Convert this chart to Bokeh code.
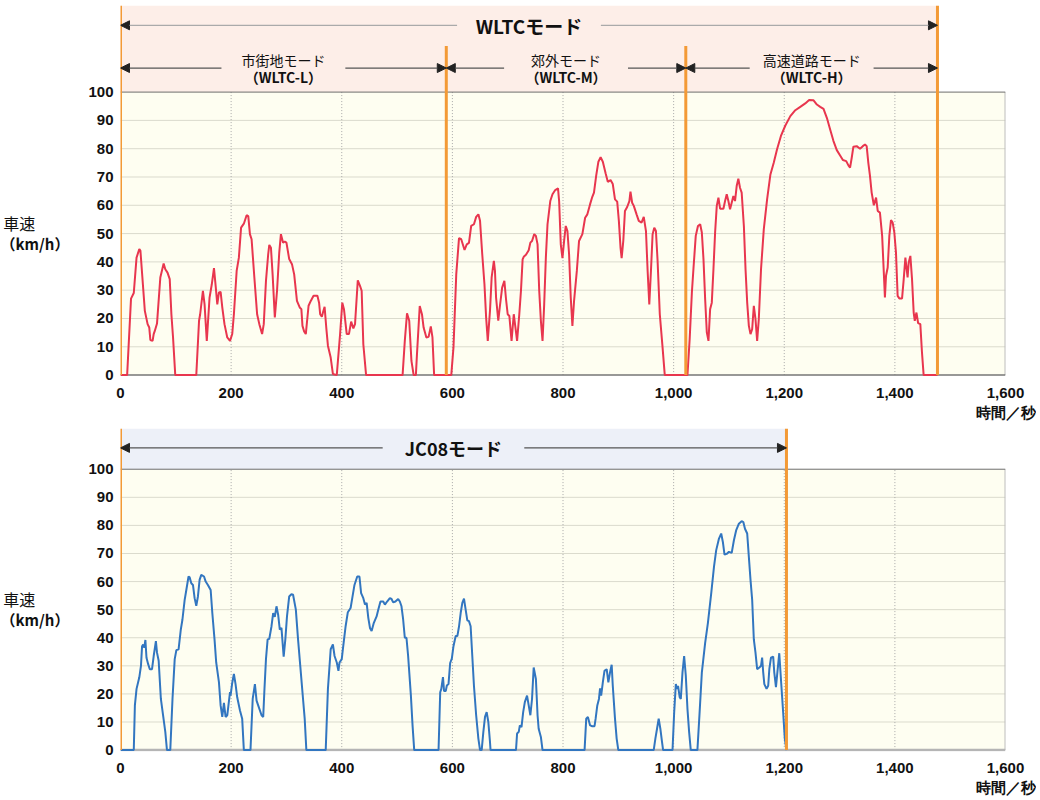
from bokeh.plotting import figure
from bokeh.models import (Arrow, NormalHead, Label, FixedTicker,
                          NumeralTickFormatter, Range1d)
from bokeh.core.properties import value
from bokeh.layouts import column, row
from bokeh.embed import file_html
from bokeh.resources import INLINE


# ── Data ─────────────────────────────────────────────────────────
X_TICKS = [0, 200, 400, 600, 800, 1000, 1200, 1400, 1600]
Y_TICKS = [0, 10, 20, 30, 40, 50, 60, 70, 80, 90, 100]
X_UNIT = "時間／秒"
Y_TITLE = ["車速", "（km/h）"]

WLTC_PHASES = [0, 589, 1022, 1477]
WLTC_NAMES = ["市街地モード", "郊外モード", "高速道路モード"]
WLTC_CODES = ["（WLTC-L）", "（WLTC-M）", "（WLTC-H）"]
JC08_END = 1204

wltc_t = [
    0, 12, 19, 24, 29, 34, 36, 44, 49, 52, 54, 58, 60, 62, 66, 72, 78, 81, 85, 89,
    92, 95, 99, 137, 142, 144, 149, 152, 156, 161, 165, 169, 172, 175, 178, 181,
    184, 188, 193, 198, 202, 205, 210, 214, 218, 223, 228, 231, 234, 237, 242,
    247, 251, 256, 259, 263, 267, 269, 272, 275, 279, 283, 287, 290, 294, 297,
    300, 305, 310, 314, 319, 324, 327, 329, 332, 335, 340, 344, 349, 356, 359,
    361, 364, 366, 369, 372, 375, 380, 384, 391, 397, 401, 404, 409, 413, 417,
    421, 424, 429, 433, 436, 439, 444, 510, 514, 518, 522, 526, 530, 534, 536,
    541, 545, 548, 553, 557, 561, 564, 567, 598, 602, 607, 612, 616, 622, 626,
    630, 634, 639, 643, 647, 650, 654, 658, 661, 664, 668, 671, 675, 677, 679,
    683, 686, 690, 694, 697, 700, 703, 707, 711, 717, 721, 724, 727, 729, 733,
    738, 741, 744, 748, 751, 754, 757, 760, 763, 766, 769, 772, 777, 781, 786,
    791, 793, 796, 799, 802, 805, 808, 811, 814, 817, 820, 825, 829, 835, 840,
    844, 849, 853, 856, 860, 864, 868, 872, 877, 881, 886, 890, 894, 898, 901,
    904, 906, 909, 912, 916, 920, 922, 925, 928, 933, 937, 942, 946, 950, 953,
    956, 959, 962, 965, 968, 971, 975, 980, 984, 1025, 1029, 1033, 1036, 1040,
    1044, 1048, 1051, 1054, 1057, 1060, 1063, 1066, 1069, 1072, 1075, 1078,
    1081, 1084, 1090, 1093, 1096, 1099, 1102, 1105, 1108, 1111, 1114, 1117,
    1120, 1123, 1127, 1130, 1133, 1136, 1139, 1142, 1145, 1148, 1151, 1154,
    1158, 1163, 1169, 1175, 1181, 1187, 1194, 1202, 1211, 1220, 1229, 1238,
    1245, 1253, 1259, 1265, 1271, 1277, 1283, 1289, 1295, 1301, 1306, 1312,
    1316, 1319, 1322, 1325, 1331, 1337, 1342, 1346, 1349, 1352, 1355, 1358,
    1362, 1366, 1369, 1373, 1377, 1380, 1382, 1384, 1387, 1390, 1393, 1396,
    1399, 1402, 1405, 1408, 1413, 1416, 1419, 1423, 1425, 1428, 1431, 1434,
    1436, 1439, 1442, 1446, 1449, 1452, 1477,
]
wltc_v = [
    0, 0, 27, 29, 41.5, 44.5, 44, 22.7, 18, 16.8, 12.4, 12.1, 14.5, 15.6, 18.2,
    34.5, 39.4, 37.4, 36.2, 33.9, 21.5, 13.3, 0, 0, 19.2, 21.5, 29.8, 25, 12.1,
    27.4, 32, 37.8, 31.5, 25, 29.2, 29.4, 23.9, 18, 13.3, 12.1, 14.5, 21.5, 36.8,
    41.5, 52.1, 53.5, 56.5, 56.2, 49.8, 48, 34.5, 21.5, 18, 14.5, 18, 33.3, 42.7,
    46, 45, 35.6, 20.4, 29.8, 43.3, 49.8, 46.8, 47.2, 46.8, 41, 39.2, 35.6, 26.2,
    23.9, 23.3, 17.4, 15.4, 14.5, 24.5, 26.2, 28, 28, 25.6, 21.5, 20.6, 22.1,
    24.1, 16.8, 10.4, 6.2, 0.4, 0, 14.5, 25.6, 23.3, 14.5, 14.5, 18.9, 16.5, 18,
    33.5, 31.5, 29.8, 10.9, 0, 0, 12.1, 21.8, 19.2, 5, 0, 0, 7.4, 24.4, 21.5,
    16.8, 13.3, 13.5, 17.2, 13.3, 0, 0, 9.8, 35.6, 48.4, 48, 44.2, 46.2, 46.7,
    52.7, 53.3, 55.9, 56.8, 54.5, 42.7, 32.1, 20.4, 12.1, 22.7, 34.5, 40.4, 36.8,
    27.4, 19.2, 24.5, 30.9, 33.3, 26.8, 21.5, 20.9, 12.1, 21.5, 12.1, 21.5, 29.8,
    40.9, 41.8, 42.5, 44.1, 46.8, 47.4, 49.8, 49.2, 46.2, 29.8, 19.2, 12.1, 25,
    41.5, 53.3, 61.5, 63.9, 65.4, 66, 61.5, 46.2, 41.3, 47.4, 52.7, 50.9, 42.7,
    27.4, 17.4, 26.2, 36.8, 47.4, 49.8, 55.6, 56.8, 60.4, 63, 64.5, 70.5, 75.4,
    77, 75.4, 71.3, 68.3, 68.9, 67.5, 62.1, 61.3, 54.5, 45, 41.3, 47.4, 58, 59.4,
    61.5, 64.8, 60.9, 59.8, 56.8, 54.5, 53.9, 55.9, 50.9, 36.8, 25, 36.8, 49.8,
    52.1, 50.9, 40.4, 21.5, 9.8, 0, 0, 12.7, 29.2, 38, 49.2, 52.7, 53.3, 50.4,
    40.9, 26.8, 15.1, 12.1, 23.3, 25.6, 37.4, 50.4, 59.8, 62.7, 58.8, 58.8, 61.5,
    63.9, 61.5, 58.6, 60.9, 63.3, 61.5, 66.8, 69.4, 66.2, 64.5, 52.7, 37.4, 25.6,
    17.4, 14.5, 16.2, 24.5, 19.8, 12.1, 19.8, 37.4, 51.5, 62.1, 70.9, 75, 79.8,
    84.5, 88.2, 91.5, 93.6, 94.8, 96, 97.2, 97.1, 95.6, 94.8, 94.1, 90.9, 86.8,
    82.7, 79.5, 77.6, 76, 75.6, 74.1, 73.3, 76.8, 80.7, 80.9, 80, 80.9, 81.5,
    80.9, 75, 70.4, 64.5, 60, 62.7, 58, 57.4, 49.2, 36.2, 27.4, 35.1, 38, 49.2,
    54.8, 53.9, 50.4, 43.3, 28, 27.1, 27.1, 33.9, 41.5, 34.5, 39.8, 42.1, 33.9,
    22.1, 19.2, 22.1, 18.4, 18, 8, 0, 0,
]

jc08_t = [
    0, 24, 26, 29, 34, 37, 39, 41, 43, 45, 47, 50, 53, 57, 60, 64, 66, 69, 73, 77,
    81, 84, 90, 94, 98, 101, 105, 109, 112, 116, 119, 123, 125, 128, 131, 134,
    137, 140, 143, 146, 151, 154, 158, 163, 166, 170, 173, 178, 181, 184, 187,
    190, 193, 198, 199, 202, 205, 208, 211, 216, 220, 223, 235, 239, 243, 246,
    250, 255, 258, 260, 263, 266, 269, 273, 276, 279, 282, 285, 288, 291, 295,
    298, 301, 305, 309, 312, 317, 321, 325, 330, 333, 336, 371, 375, 380, 384,
    387, 391, 394, 396, 400, 402, 407, 411, 416, 419, 423, 428, 432, 435, 439,
    442, 445, 448, 451, 454, 458, 463, 466, 470, 475, 478, 482, 487, 490, 493,
    497, 502, 505, 508, 511, 514, 517, 520, 525, 528, 531, 575, 578, 580, 583,
    585, 588, 590, 593, 596, 599, 602, 606, 609, 612, 615, 618, 621, 624, 627,
    630, 633, 636, 639, 643, 647, 650, 653, 656, 659, 662, 665, 668, 669, 715,
    717, 720, 722, 725, 728, 731, 735, 738, 741, 744, 747, 751, 754, 756, 760,
    763, 839, 842, 845, 849, 853, 857, 859, 862, 865, 867, 869, 872, 875, 879,
    882, 885, 888, 890, 894, 897, 900, 964, 967, 970, 973, 976, 979, 981, 998,
    1001, 1004, 1006, 1008, 1011, 1013, 1016, 1019, 1022, 1025, 1028, 1031, 1043,
    1047, 1051, 1057, 1062, 1068, 1073, 1077, 1082, 1086, 1089, 1092, 1097, 1100,
    1105, 1109, 1113, 1118, 1123, 1126, 1129, 1133, 1136, 1139, 1142, 1145, 1148,
    1151, 1155, 1158, 1160, 1162, 1164, 1168, 1171, 1173, 1176, 1180, 1182, 1185,
    1187, 1191, 1194, 1198, 1201, 1204,
]
jc08_v = [
    0, 0, 15.9, 21.8, 25.9, 30, 37, 37.6, 36.5, 39.2, 32.9, 30.6, 28.8, 28.8,
    33.5, 38.8, 34.7, 31.8, 18.2, 12.4, 6.5, 0, 0, 18.2, 32.4, 35.6, 35.9, 42.9,
    46.5, 53.5, 57, 61.8, 61.5, 59.4, 58.8, 54.1, 51.4, 54.7, 60.6, 62.4, 61.8,
    60, 58.8, 57, 48.8, 39.4, 31.2, 24.1, 15.9, 11.8, 16.8, 11.8, 12.4, 20.6,
    19.4, 23.9, 27.1, 23.5, 18.8, 14.1, 11.2, 0, 0, 18.2, 23.5, 17.6, 15.3, 12.4,
    11.8, 20.6, 32.4, 39.4, 39.6, 44.1, 48.8, 47.4, 51.2, 48.2, 42.9, 43.5, 33.3,
    39.4, 47.6, 54.7, 55.5, 55.3, 50, 39.4, 30, 18.2, 11.2, 0, 0, 21.8, 35.9,
    37.6, 33.5, 31.2, 28.2, 31.2, 32.4, 35.9, 44.1, 49.1, 50.6, 54.1, 58.8, 61.8,
    61.8, 55.9, 54.1, 51.8, 52.4, 47.1, 43.5, 42.4, 45.3, 47.6, 50, 52.9, 52.9,
    51.8, 52.9, 54.1, 53.8, 52.6, 52.9, 53.8, 52.9, 51.2, 46.5, 40, 40, 33.5,
    19.4, 8.8, 0, 0, 20.6, 21.8, 26, 21, 21, 23, 23.5, 31, 32.6, 37, 40.6, 40.6,
    44, 48.8, 52.4, 53.9, 50, 46.2, 45.9, 44.1, 33.5, 22.9, 12.4, 4.1, 0, 0, 6.5,
    11.8, 13.5, 10, 2.9, 0, 0, 5.9, 6.5, 8.8, 8.2, 13.5, 17.1, 19.4, 15.9, 12.4,
    18.2, 29.4, 25.3, 12.4, 7.6, 4.7, 0, 0, 11.2, 11.8, 8.8, 8.5, 8.5, 11.2, 15.9,
    18.2, 22, 19.4, 24.1, 28.2, 28.8, 24.1, 27.6, 30.4, 22.9, 11.2, 4.1, 0, 0,
    4.1, 7.6, 11.2, 7.6, 2.9, 0, 0, 13.5, 23.5, 21.8, 22.9, 18.8, 18.2, 27.6,
    33.5, 26.5, 14.7, 6.5, 0, 0, 13.5, 27.6, 38.2, 45.3, 55.9, 65.3, 71.2, 75.3,
    77.1, 74.1, 69.6, 70, 70.6, 70.2, 74.7, 78.2, 80.6, 81.5, 81.2, 78.8, 77.1,
    68.8, 60.6, 53.5, 39.4, 34.7, 28.8, 29.4, 30, 32.9, 27.6, 23.5, 21.8, 22.9,
    28.8, 32.9, 33.3, 27.6, 22.4, 26.5, 34.5, 25.3, 13.5, 4.1, 0,
]


# ── Style ────────────────────────────────────────────────────────
JP_FONT = "Noto Sans CJK JP"
NUM_FONT = "Liberation Sans"
CREAM = "#fefef1"
ORANGE = "#f39a36"
TEXT = "#111111"
LABEL_W = 70
MAIN_W = 966


def _base(height, ymax, border_top, border_bottom, bottom_line):
    p = figure(
        width=MAIN_W, height=height, title=None,
        x_range=Range1d(0, 1600), y_range=Range1d(-0.5, ymax),
        tools="", toolbar_location=None, output_backend="svg",
        min_border_left=50, min_border_right=31,
        min_border_top=border_top, min_border_bottom=border_bottom,
    )
    p.outline_line_color = None
    p.background_fill_color = "white"
    p.border_fill_color = "white"
    p.xgrid.visible = False
    p.ygrid.visible = False

    for ax in (p.xaxis, p.yaxis):
        ax.axis_line_color = None
        ax.major_tick_line_color = None
        ax.minor_tick_line_color = None
        ax.major_tick_in = 0
        ax.major_tick_out = 0
        ax.major_label_text_font = NUM_FONT
        ax.major_label_text_font_style = "bold"
        ax.major_label_text_font_size = "15px"
        ax.major_label_text_color = TEXT
    p.xaxis.ticker = FixedTicker(ticks=X_TICKS)
    p.xaxis.formatter = NumeralTickFormatter(format="0,0")
    p.xaxis.major_label_overrides = {X_TICKS[-1]: "{:,}\n{}".format(X_TICKS[-1], X_UNIT)}
    p.xaxis.major_label_standoff = 7
    p.yaxis.ticker = FixedTicker(ticks=Y_TICKS)
    p.yaxis.major_label_standoff = 7

    # plot area
    p.quad(left=[0], right=[1600], bottom=[0], top=[100],
           fill_color=CREAM, line_color=None)
    inner_y = Y_TICKS[1:-1]
    p.segment(x0=[0] * len(inner_y), y0=inner_y, x1=[1600] * len(inner_y), y1=inner_y,
              line_color="#dbdbcd", line_width=1)
    inner_x = X_TICKS[1:-1]
    p.segment(x0=inner_x, y0=[0] * len(inner_x), x1=inner_x, y1=[100] * len(inner_x),
              line_color="#a8a8a8", line_width=1, line_dash="1 2")
    p.segment(x0=[1600], y0=[0], x1=[1600], y1=[100], line_color="#bdbdbd", line_width=2)
    p.segment(x0=[0], y0=[0], x1=[1600], y1=[0], **bottom_line)
    return p


def _ylabel(main, height, border_top, border_bottom):
    """Narrow companion figure holding the horizontal y-axis title."""
    p = figure(
        width=LABEL_W, height=height, title=None,
        x_range=Range1d(0, 1), y_range=main.y_range,
        tools="", toolbar_location=None, output_backend="svg",
        x_axis_location=None, y_axis_location=None,
        min_border_left=0, min_border_right=0,
        min_border_top=border_top, min_border_bottom=border_bottom,
    )
    p.outline_line_color = None
    p.xgrid.visible = False
    p.ygrid.visible = False
    p.text(x=[0.04], y=[53.7], text=[Y_TITLE[0]], text_align="left",
           text_baseline="middle", text_font=value(JP_FONT),
           text_font_size="16px", text_color=TEXT)
    p.text(x=[0], y=[46.6], text=[Y_TITLE[1]], text_align="left",
           text_baseline="middle", text_font=value(JP_FONT),
           text_font_size="15px", text_font_style="bold", text_color=TEXT)
    return row(p, main)


def _arrow(p, x_from, x_to, y, color):
    p.add_layout(Arrow(
        start=NormalHead(size=9, fill_color="#222222", line_color="#222222"),
        end=None, x_start=x_from, y_start=y, x_end=x_to, y_end=y,
        line_color=color, line_width=1.3,
    ))


def _span_label(p, x0, x1, y, half_gap, color):
    mid = (x0 + x1) / 2
    _arrow(p, x0, mid - half_gap, y, color)
    _arrow(p, x1, mid + half_gap, y, color)
    return mid


# ── WLTC panel ───────────────────────────────────────────────────
TOP_H, TOP_BT, TOP_BB, top_ymax = 428, 5, 52, 130.6
top = _base(TOP_H, top_ymax, TOP_BT, TOP_BB, dict(line_color="#767676", line_width=1.5))
top.quad(left=[WLTC_PHASES[0]], right=[WLTC_PHASES[-1]], bottom=[100], top=[top_ymax],
         fill_color="#fdeee8", line_color=None)
top.segment(x0=[0], y0=[100], x1=[1600], y1=[100], line_color="#6e6e6e", line_width=1)
top.line(wltc_t, wltc_v, line_color="#e8364e", line_width=2)

edges_top = [top_ymax, 116.3, 116.3, top_ymax]
top.segment(x0=WLTC_PHASES, y0=[0] * 4, x1=WLTC_PHASES, y1=edges_top,
            line_color=ORANGE, line_width=3)

mid = _span_label(top, WLTC_PHASES[0], WLTC_PHASES[-1], 123.6, 130, "#aaaaaa")
top.add_layout(Label(x=mid, y=123.7, text="WLTCモード", text_align="center",
                     text_baseline="middle", text_font=JP_FONT, text_font_size="19px",
                     text_font_style="bold", text_color=TEXT))
for i, (name, code) in enumerate(zip(WLTC_NAMES, WLTC_CODES)):
    mid = _span_label(top, WLTC_PHASES[i], WLTC_PHASES[i + 1], 108.5, 112, "#555555")
    top.add_layout(Label(x=mid, y=111.4, text=name, text_align="center",
                         text_baseline="middle", text_font=JP_FONT,
                         text_font_size="14px", text_color=TEXT))
    top.add_layout(Label(x=mid, y=105.3, text=code, text_align="center",
                         text_baseline="middle", text_font=JP_FONT,
                         text_font_size="14px", text_font_style="bold", text_color=TEXT))


# ── JC08 panel ───────────────────────────────────────────────────
BOT_H, BOT_BT, BOT_BB, bot_ymax = 370, 0, 45, 114.5
bot = _base(BOT_H, bot_ymax, BOT_BT, BOT_BB, dict(line_color="#b5b5b5", line_width=2.5))
bot.quad(left=[0], right=[JC08_END], bottom=[100], top=[bot_ymax],
         fill_color="#edf0f8", line_color=None)
bot.segment(x0=[0], y0=[100], x1=[1600], y1=[100], line_color="#6e6e6e", line_width=1)
bot.line(jc08_t, jc08_v, line_color="#3276c0", line_width=2)
bot.segment(x0=[0, JC08_END], y0=[0, 0], x1=[0, JC08_END], y1=[bot_ymax, bot_ymax],
            line_color=ORANGE, line_width=3)

mid = _span_label(bot, 0, JC08_END, 107.6, 128, "#555555")
bot.add_layout(Label(x=mid, y=107.7, text="JC08モード", text_align="center",
                     text_baseline="middle", text_font=JP_FONT, text_font_size="18px",
                     text_font_style="bold", text_color=TEXT))


layout = column(_ylabel(top, TOP_H, TOP_BT, TOP_BB), _ylabel(bot, BOT_H, BOT_BT, BOT_BB))
open("out.html", "w").write(file_html(layout, INLINE))
